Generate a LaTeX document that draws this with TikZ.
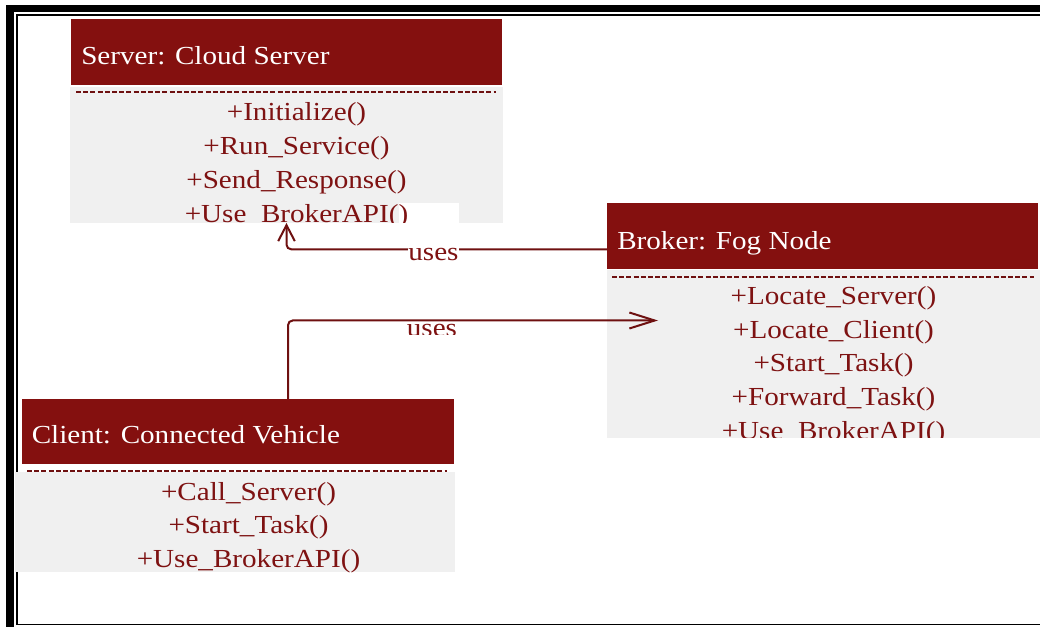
\documentclass[tikz,border=0pt]{standalone}
\usepackage{fontspec}
\setmainfont{Liberation Serif}[FakeStretch=1.12]
\usetikzlibrary{arrows.meta}
\definecolor{hdrred}{HTML}{84100F}
\definecolor{txtred}{HTML}{7E1212}
\definecolor{linered}{HTML}{6E1010}
\definecolor{bodygray}{HTML}{F0F0F0}
\begin{document}
\begin{tikzpicture}[x=0.75pt,y=-0.75pt,
  font=\fontsize{19.5}{25}\selectfont,
  hdrbox/.style={rectangle, fill=hdrred, inner sep=0pt, outer sep=0pt, anchor=north west},
  bodybox/.style={rectangle, fill=bodygray, inner sep=0pt, outer sep=0pt, anchor=north west},
  titletext/.style={text=white, inner sep=0pt, anchor=base west},
  method/.style={text=txtred, inner sep=0pt, anchor=base},
  sepline/.style={draw=linered, line width=2pt, dash pattern=on 3.8pt off 1.6pt},
  conn/.style={draw=linered, line width=1.5pt, rounded corners=3.5pt},
  lbl/.style={fill=white, text=txtred, inner xsep=0.5pt, inner ysep=2pt, anchor=base},
]
\useasboundingbox (0,0) rectangle (1040,627);
% frame
\begin{scope}
  \clip (0,0) rectangle (1040,627);
  \draw[line width=5.5pt] (10,8.5) rectangle (1060,650);
  \draw[line width=1.1pt] (17,15) rectangle (1050,624.5);
\end{scope}

% Server
\node[hdrbox, minimum width=323.25pt, minimum height=49.5pt] (srvhead) at (71,19) {};
\node[bodybox, minimum width=324.75pt, minimum height=102pt] (srvbody) at (70,87) {};
\fill[white] (399,203) rectangle (459,223);
\node[titletext] (srvtitle) at (81,65) {Server: Cloud Server};
\draw[sepline] (76,92) -- (496,92);
\begin{scope}
  \clip (srvbody.north west) rectangle (srvbody.south east);
  \node[method] (srvm1) at (296.5,121) {+Initialize()};
  \node[method] (srvm2) at (296.5,155) {+Run\_Service()};
  \node[method] (srvm3) at (296.5,189) {+Send\_Response()};
  \node[method] (srvm4) at (296.5,222.5) {+Use\_BrokerAPI()};
\end{scope}

% Broker
\node[hdrbox, minimum width=323.25pt, minimum height=49.5pt] (brkhead) at (607,203) {};
\node[bodybox, minimum width=324.75pt, minimum height=126pt] (brkbody) at (607,270) {};
\node[titletext] (brktitle) at (617,249.3) {Broker: Fog Node};
\draw[sepline] (612,277) -- (1034,277);
\begin{scope}
  \clip (brkbody.north west) rectangle (brkbody.south east);
  \node[method] (brkm1) at (833.5,305) {+Locate\_Server()};
  \node[method] (brkm2) at (833.5,338.5) {+Locate\_Client()};
  \node[method] (brkm3) at (833.5,372) {+Start\_Task()};
  \node[method] (brkm4) at (833.5,405.5) {+Forward\_Task()};
  \node[method] (brkm5) at (833.5,439.5) {+Use\_BrokerAPI()};
\end{scope}

% Client
\node[hdrbox, minimum width=324pt, minimum height=48.75pt] (clihead) at (22,399) {};
\node[bodybox, minimum width=330pt, minimum height=75pt] (clibody) at (15,472) {};
\node[titletext] (clititle) at (31.5,443.3) {Client: Connected Vehicle};
\draw[sepline] (27,471) -- (447,471);
\begin{scope}
  \clip (clibody.north west) rectangle (clibody.south east);
  \node[method] (clim1) at (248.5,500) {+Call\_Server()};
  \node[method] (clim2) at (248.5,533.5) {+Start\_Task()};
  \node[method] (clim3) at (248.5,567) {+Use\_BrokerAPI()};
\end{scope}

% connectors
\draw[conn, -{Straight Barb[length=12pt,width=12.5pt]}]
  (brkhead.west |- brktitle.base) -| (srvbody.south);
\node[lbl] (lbl1) at (433.5,261) {uses};

\coordinate (c2end) at (658,320.5);
\draw[conn, -{Straight Barb[length=19pt,width=12pt]}]
  ([xshift=37.5pt]clihead.north) |- (c2end);
\begin{scope}
  \clip (0,0) rectangle (1040,334.5);
  \node[lbl] (lbl2) at (432,337) {uses};
\end{scope}
\end{tikzpicture}
\end{document}
